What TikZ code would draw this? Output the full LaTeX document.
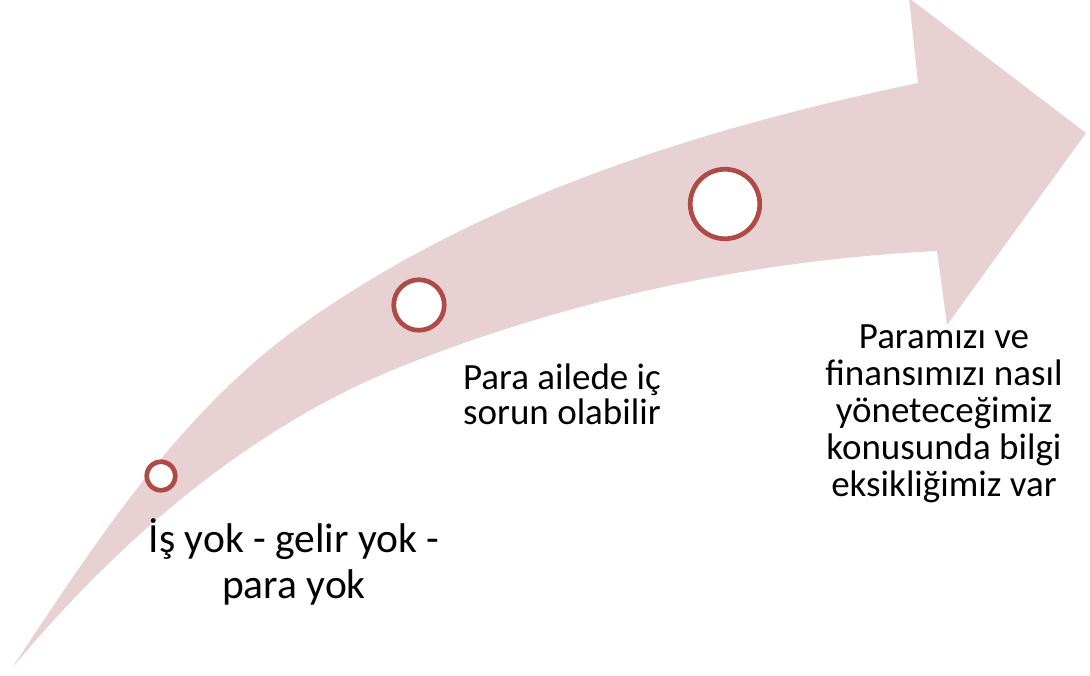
\documentclass[tikz,border=0pt]{standalone}
\usepackage{fontspec}
\setmainfont{Carlito}
\definecolor{arrowfill}{RGB}{232,209,210}
\definecolor{ringcol}{RGB}{176,74,71}
\begin{document}
\begin{tikzpicture}[x=1pt,y=-1pt,
  ring/.style={circle,draw=ringcol,fill=white,line width=4.7pt,inner sep=0pt},
  lbl/.style={align=center,inner sep=0pt,text=black}]
\useasboundingbox (0,0) rectangle (1090,675);
\fill[arrowfill] (12,668) .. controls (95,543) and (178,414) .. (300,326)
  .. controls (480,197) and (702,128) .. (918,83)
  -- (909,-2) -- (1086,133) -- (947,325) -- (937,251)
  .. controls (754,260) and (570,299) .. (400,367)
  .. controls (248,428) and (117,542) .. (12,668) -- cycle;
\node[ring,minimum size=28.5pt] (c1) at (161,476) {};
\node[ring,minimum size=50.5pt] (c2) at (419,305) {};
\node[ring,minimum size=69.5pt] (c3) at (725,204) {};
\node[lbl,font=\fontsize{41.5}{46}\selectfont] (t1) at (294,562) {İş yok - gelir yok -\\para yok};
\node[lbl,font=\fontsize{37}{35}\selectfont] (t2) at (562,394) {Para ailede iç\\sorun olabilir};
\node[lbl,font=\fontsize{37}{37}\selectfont] (t3) at (944,414) {Paramızı ve\\finansımızı nasıl\\yöneteceğimiz\\konusunda bilgi\\eksikliğimiz var};
\end{tikzpicture}
\end{document}
